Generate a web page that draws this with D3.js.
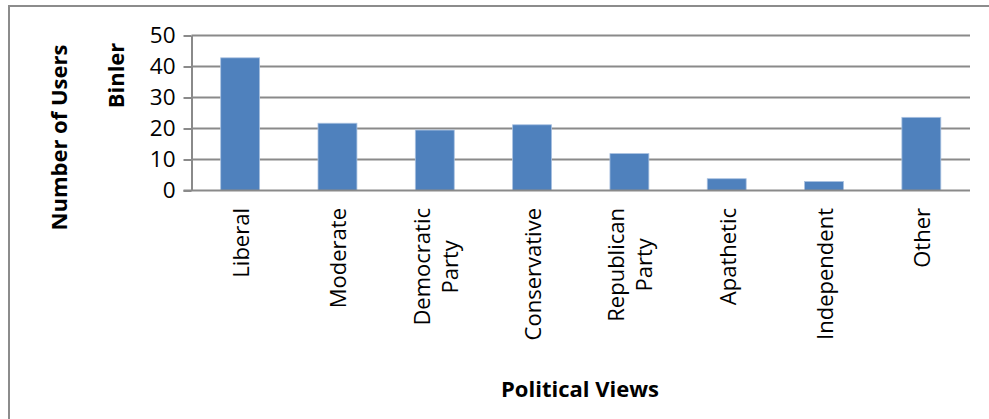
<!DOCTYPE html>
<html>
<head>
<meta charset="utf-8">
<script src="https://cdn.jsdelivr.net/npm/d3@7"></script>
<style>
  html, body { margin: 0; padding: 0; background: #fff; }
  svg { display: block; }
  text { font-family: "Open Sans", sans-serif; fill: #000; }
</style>
</head>
<body>
<svg id="chart" width="989" height="419"></svg>
<script>
const categories = ["Liberal", "Moderate", "Democratic\nParty", "Conservative", "Republican\nParty", "Apathetic", "Independent", "Other"];
const values = [42.8, 21.7, 19.5, 21.2, 11.9, 3.8, 2.9, 23.6];
const yTicks = [0, 10, 20, 30, 40, 50];
const xTitle = "Political Views";
const yTitle = "Number of Users";
const yTitle2 = "Binler";

(function () {
const svg = d3.select("#chart");

svg.append("rect")
  .attr("x", 9).attr("y", 6).attr("width", 1100).attr("height", 600)
  .attr("fill", "none").attr("stroke", "#8c8c8c").attr("stroke-width", 2);

const pLeft = 191.5, pRight = 970, pTop = 35.5, pBottom = 190.5;

const x = d3.scaleBand().domain(categories).range([pLeft, pRight]).paddingInner(0.6).paddingOuter(0.3);
const y = d3.scaleLinear().domain([0, 50]).range([pBottom, pTop]);

svg.append("g").selectAll("line").data(yTicks.filter(t => t > 0)).join("line")
  .attr("x1", pLeft).attr("x2", pRight)
  .attr("y1", d => y(d)).attr("y2", d => y(d))
  .attr("stroke", "#8a8a8a").attr("stroke-width", 2);

svg.append("g").selectAll("rect").data(values).join("rect")
  .attr("x", (d, i) => x(categories[i]))
  .attr("y", d => y(d))
  .attr("width", x.bandwidth())
  .attr("height", d => y(0) - y(d))
  .attr("fill", "#4F81BD")
  .attr("stroke", "#a9c1e0").attr("stroke-width", 0.8);

const yAxis = d3.axisLeft(y).tickValues(yTicks).tickSize(8).tickPadding(8).tickSizeOuter(0);
const yg = svg.append("g").attr("transform", `translate(${pLeft},0)`).call(yAxis);
yg.select(".domain").attr("stroke", "#8a8a8a").attr("stroke-width", 2);
yg.selectAll(".tick line").attr("stroke", "#8a8a8a").attr("stroke-width", 2);
yg.selectAll(".tick text").attr("font-size", 22.5).attr("font-family", "Open Sans").attr("fill", "#000");

svg.append("line").attr("x1", pLeft - 8).attr("x2", pRight)
  .attr("y1", pBottom).attr("y2", pBottom)
  .attr("stroke", "#8a8a8a").attr("stroke-width", 2);

const labelTop = 208;
const lineH = 28;
categories.forEach(c => {
  const lines = c.split("\n");
  const cx = x(c) + x.bandwidth() / 2;
  const g = svg.append("g");
  const texts = lines.map(l => g.append("text").attr("font-size", 22).text(l));
  const maxW = d3.max(texts, t => t.node().getComputedTextLength());
  const n = lines.length;
  texts.forEach((t, i) => {
    const off = (i - (n - 1) / 2) * lineH;
    t.attr("text-anchor", "middle")
     .attr("dominant-baseline", "central")
     .attr("transform", `translate(${cx + off},${labelTop + maxW / 2}) rotate(-90)`);
  });
});

svg.append("text").attr("x", 580).attr("y", 397).attr("text-anchor", "middle")
  .attr("font-size", 22).attr("font-weight", "bold").text(xTitle);
svg.append("text").attr("transform", "translate(67,137.5) rotate(-90)").attr("text-anchor", "middle")
  .attr("font-size", 22).attr("font-weight", "bold").text(yTitle);
svg.append("text").attr("transform", "translate(124,75.5) rotate(-90)").attr("text-anchor", "middle")
  .attr("font-size", 22).attr("font-weight", "bold").text(yTitle2);
})();
</script>
</body>
</html>
